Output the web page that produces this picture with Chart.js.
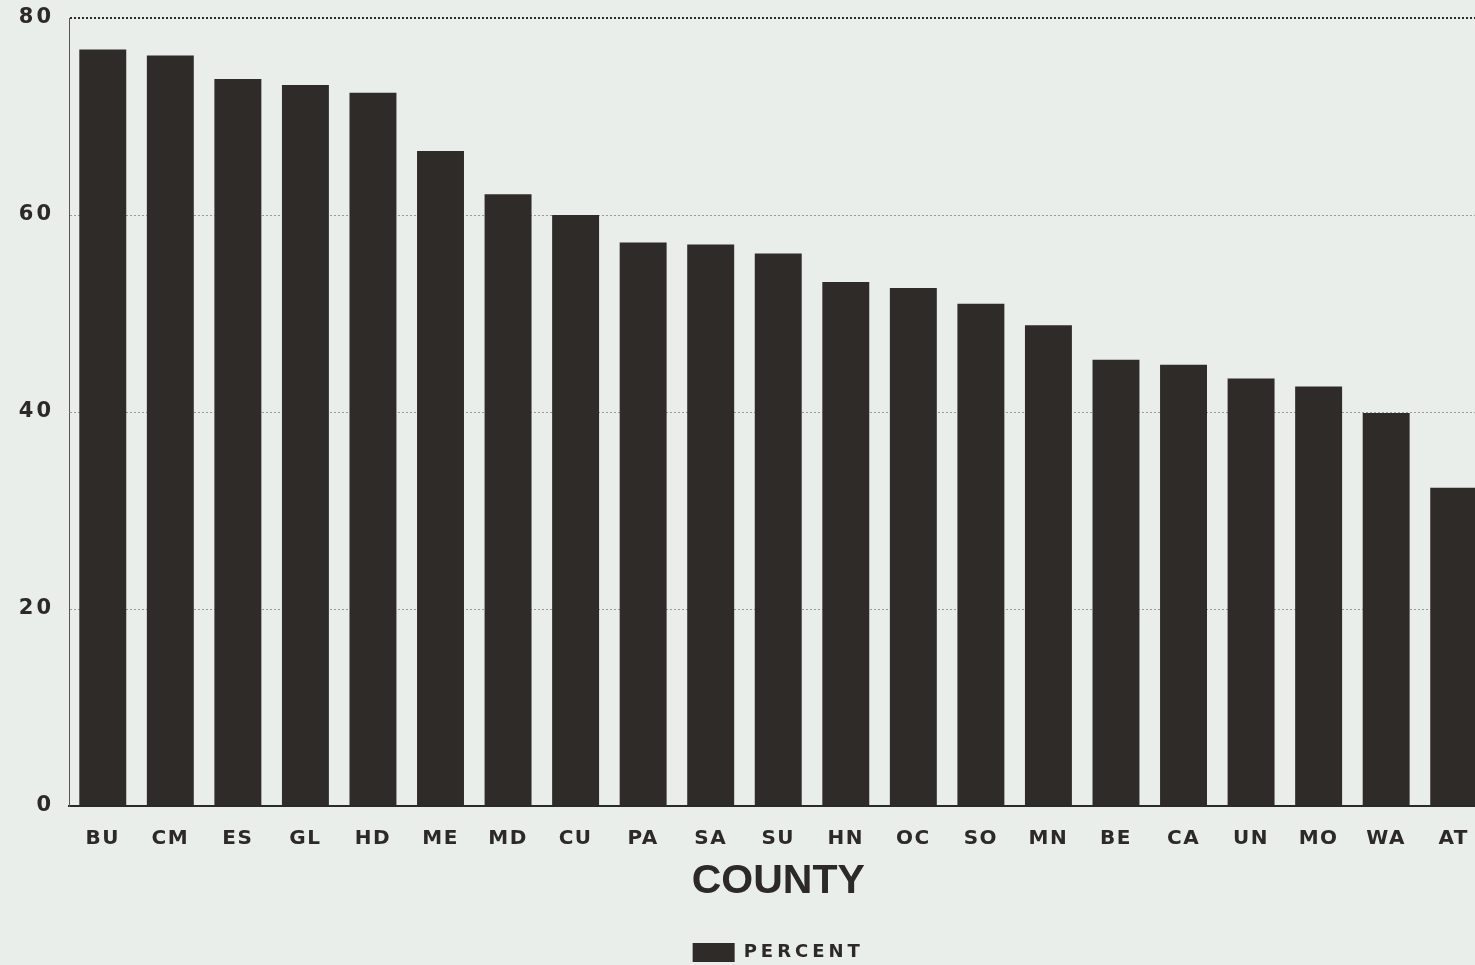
<!DOCTYPE html>
<html>
<head>
<meta charset="utf-8">
<script src="https://cdn.jsdelivr.net/npm/chart.js@4/dist/chart.umd.min.js"></script>
<style>
  html, body { margin: 0; padding: 0; background: #e9eeea; overflow: hidden; }
  canvas { display: block; }
</style>
</head>
<body>
<canvas id="c" width="1490" height="965"></canvas>
<script>
const categories = ['BU','CM','ES','GL','HD','ME','MD','CU','PA','SA','SU','HN','OC','SO','MN','BE','CA','UN','MO','WA','AT'];
const percentValues = [76.8, 76.2, 73.8, 73.2, 72.4, 66.5, 62.1, 60.0, 57.2, 57.0, 56.1, 53.2, 52.6, 51.0, 48.8, 45.3, 44.8, 43.4, 42.6, 39.9, 32.3];
const yTicks = [0, 20, 40, 60, 80];
const seriesName = 'PERCENT';
const axisTitle = 'COUNTY';

const INK = '#2c2927';
const BAR = '#2f2b29';

// per-font letter spacing to mimic the wide plotter lettering
const spacingPlugin = {
  id: 'spacing',
  beforeInit(chart) {
    const ctx = chart.ctx;
    const pick = (font) => {
      if (/\b18px/.test(font)) return '4px';
      if (/\b20px/.test(font)) return '1.5px';
      if (/\b21px/.test(font)) return '3px';
      return '0px';
    };
    const ft = ctx.fillText.bind(ctx);
    const mt = ctx.measureText.bind(ctx);
    ctx.fillText = function(t, x, y, w) {
      const prev = ctx.letterSpacing;
      ctx.letterSpacing = pick(ctx.font);
      ft(t, x, y, w);
      ctx.letterSpacing = prev;
    };
    ctx.measureText = function(t) {
      const prev = ctx.letterSpacing;
      ctx.letterSpacing = pick(ctx.font);
      const m = mt(t);
      ctx.letterSpacing = prev;
      return m;
    };
  }
};

new Chart(document.getElementById('c'), {
  type: 'bar',
  data: {
    labels: categories,
    datasets: [{
      label: seriesName,
      data: percentValues,
      backgroundColor: BAR,
      borderWidth: 0,
      barPercentage: 0.695,
      categoryPercentage: 1.0
    }]
  },
  plugins: [spacingPlugin],
  options: {
    responsive: false,
    animation: false,
    devicePixelRatio: 1,
    layout: { padding: { top: 18, left: 0, right: 0, bottom: -7 } },
    plugins: {
      legend: {
        position: 'bottom',
        fullSize: false,
        labels: {
          boxWidth: 42,
          boxHeight: 19,
          padding: 0,
          color: INK,
          font: { family: 'DejaVu Sans', size: 18, weight: 'bold' }
        }
      },
      tooltip: { enabled: false }
    },
    scales: {
      x: {
        grid: { display: false, drawTicks: false },
        border: { display: true, color: '#2a2a2a', width: 2 },
        ticks: {
          color: INK,
          padding: 21,
          maxRotation: 0,
          autoSkip: false,
          font: { family: 'DejaVu Sans', size: 20, weight: 'bold' }
        },
        title: {
          display: true,
          text: axisTitle,
          color: INK,
          padding: { top: 0, bottom: 37 },
          font: { family: 'Liberation Sans', size: 41, weight: 'bold' }
        },
        afterFit(scale) { scale.height = 137; }
      },
      y: {
        min: 0,
        max: 80,
        afterBuildTicks(scale) { scale.ticks = yTicks.map(v => ({ value: v })); },
        grid: {
          drawTicks: false,
          color: (c) => (c.tick && c.tick.value === 80) ? '#2a2a2a' : (c.tick && c.tick.value === 0 ? 'rgba(0,0,0,0)' : '#9a9c9a'),
          lineWidth: (c) => (c.tick && c.tick.value === 80) ? 2 : 1,
          borderDash: (c) => (c.tick && c.tick.value === 80) ? [] : [2, 3]
        },
        border: { display: true, color: '#555', width: 1, dash: [2, 2] },
        ticks: {
          color: INK,
          padding: 15,
          font: { family: 'DejaVu Sans', size: 21, weight: 'bold' }
        },
        afterFit(scale) {
          scale.width = 69;
          scale.paddingTop = 0;
          scale.paddingBottom = 0;
        }
      }
    }
  }
});
</script>
</body>
</html>
